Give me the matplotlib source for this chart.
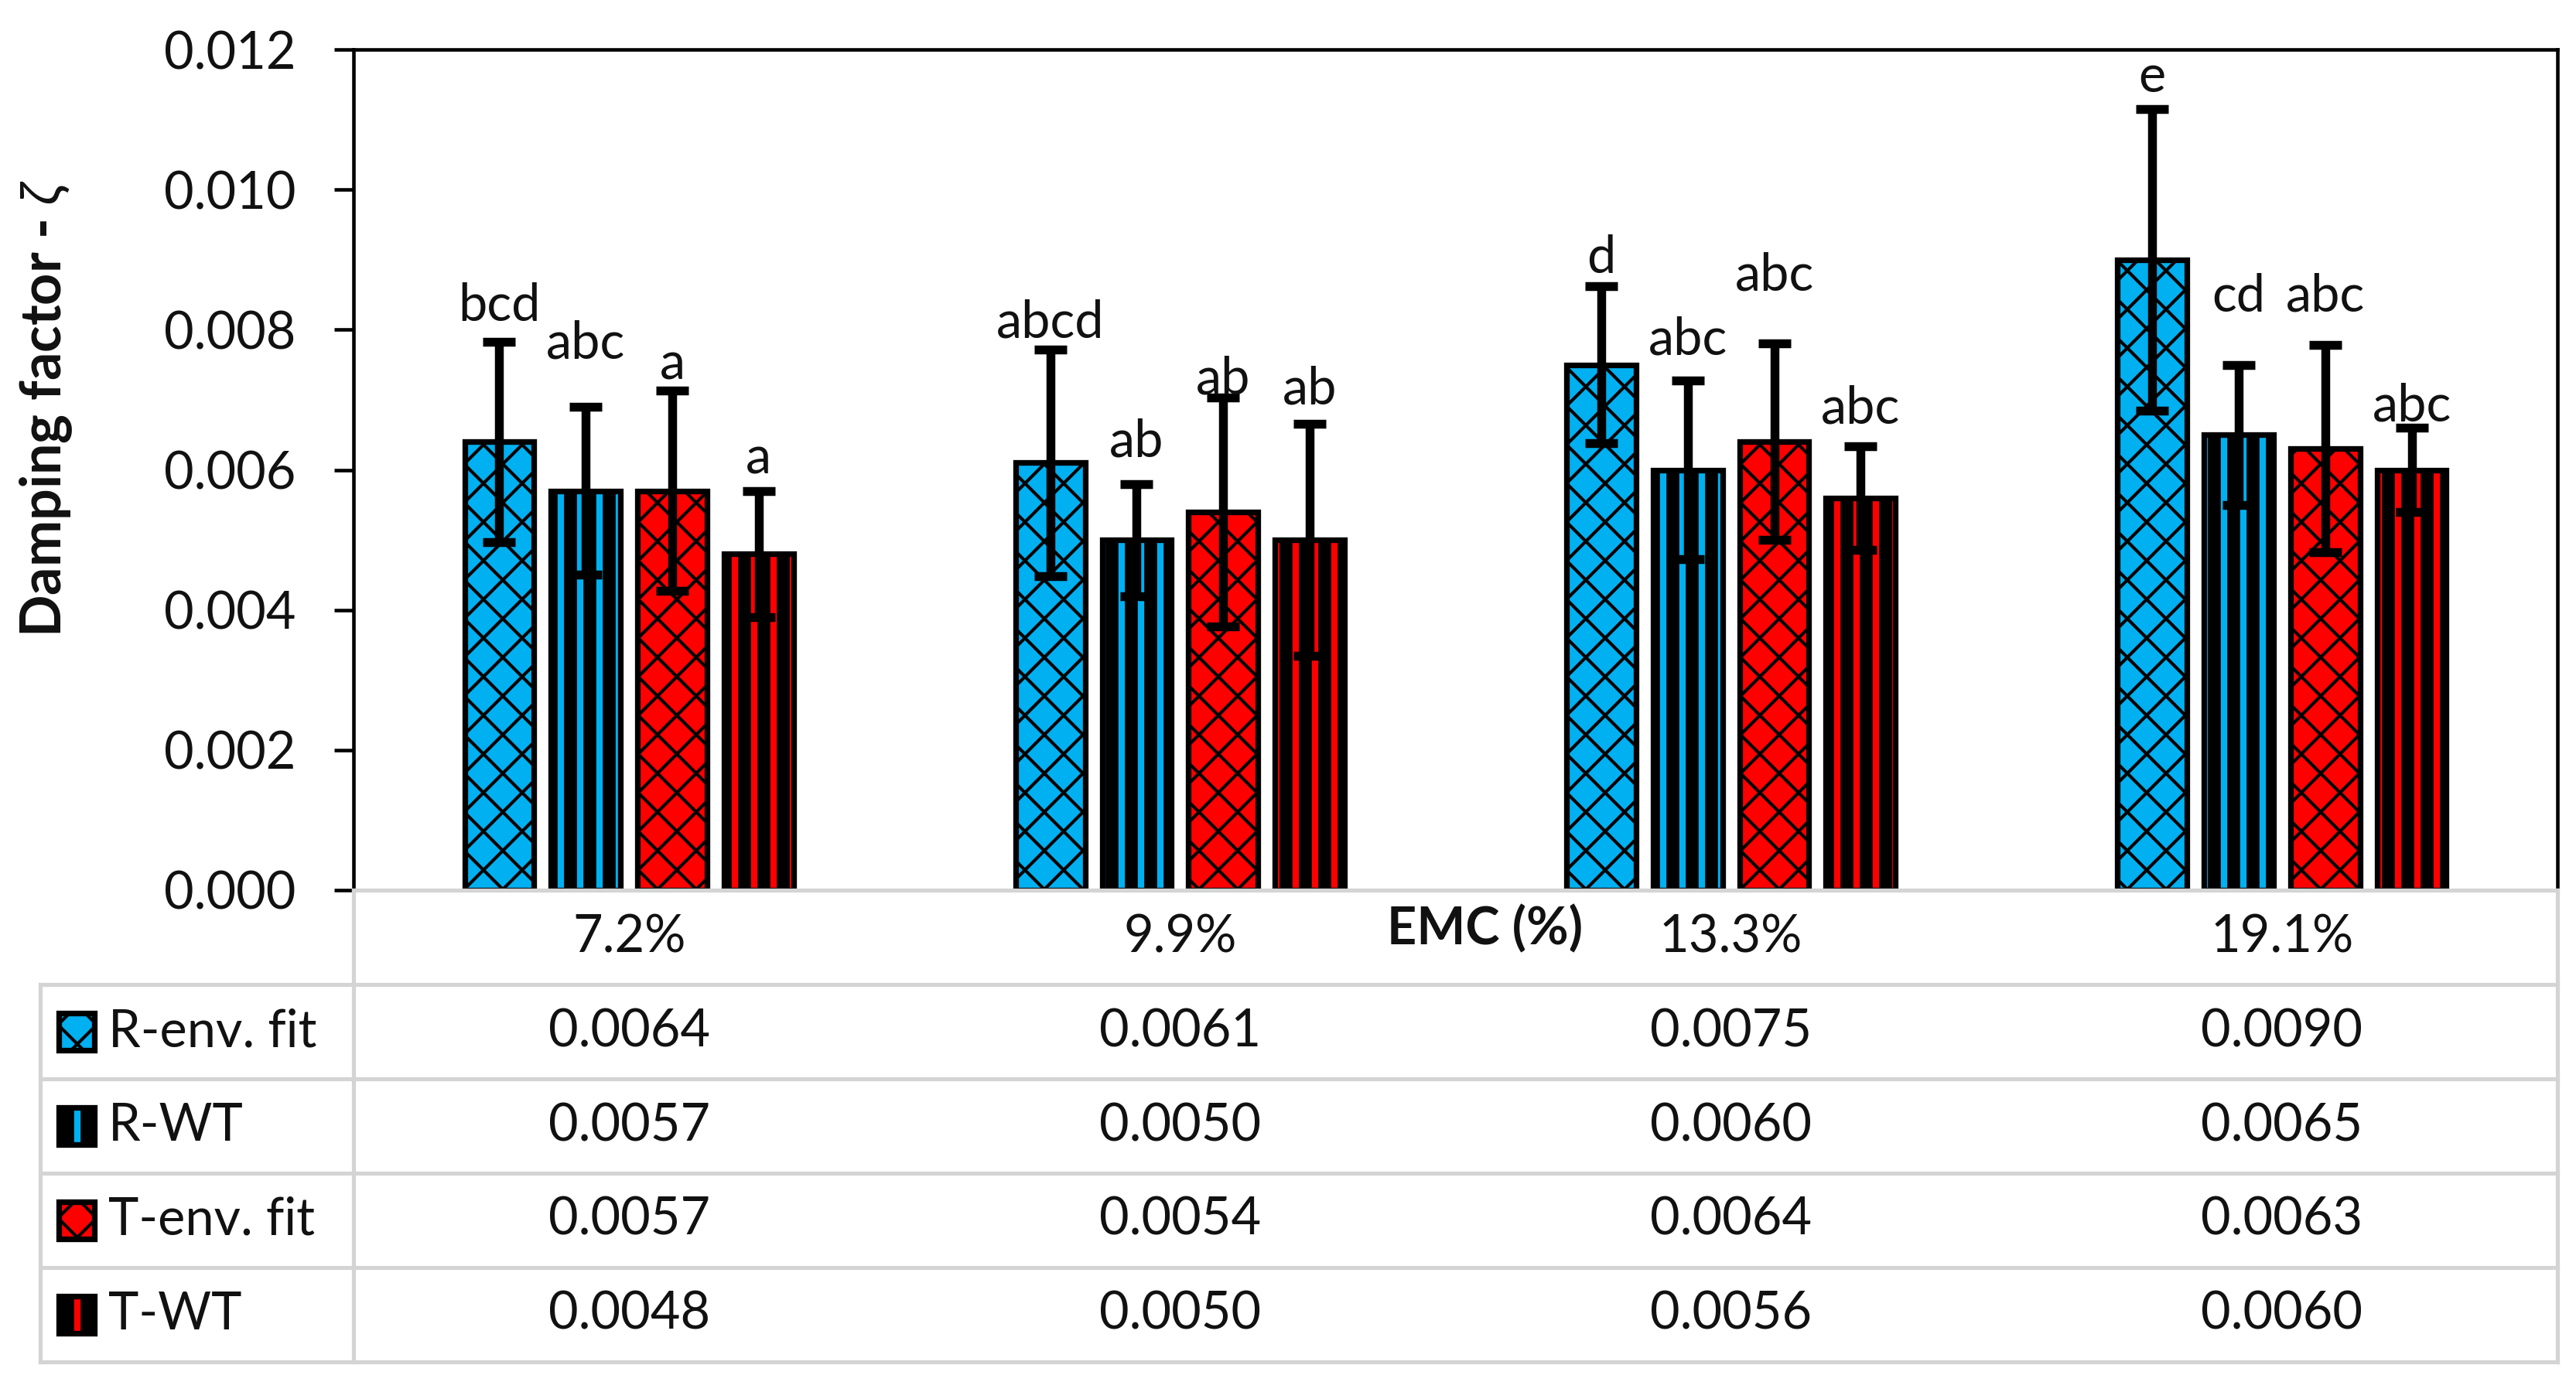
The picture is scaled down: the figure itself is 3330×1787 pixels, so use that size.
import numpy as np
import matplotlib
matplotlib.use("Agg")
import matplotlib.pyplot as plt
import matplotlib.transforms as mtransforms
from matplotlib.patches import Rectangle


emc_labels = ["7.2%", "9.9%", "13.3%", "19.1%"]
series_names = ["R-env. fit", "R-WT", "T-env. fit", "T-WT"]

r_env_fit = [0.0064, 0.0061, 0.0075, 0.0090]
r_wt = [0.0057, 0.0050, 0.0060, 0.0065]
t_env_fit = [0.0057, 0.0054, 0.0064, 0.0063]
t_wt = [0.0048, 0.0050, 0.0056, 0.0060]

r_env_fit_err = [0.00143, 0.00162, 0.00112, 0.00215]
r_wt_err = [0.00120, 0.00080, 0.00128, 0.00100]
t_env_fit_err = [0.00143, 0.00163, 0.00140, 0.00148]
t_wt_err = [0.00090, 0.00166, 0.00074, 0.00060]

# significance letters and the height they sit at
r_env_fit_letters = ["bcd", "abcd", "d", "e"]
r_wt_letters = ["abc", "ab", "abc", "cd"]
t_env_fit_letters = ["a", "ab", "abc", "abc"]
t_wt_letters = ["a", "ab", "abc", "abc"]

r_env_fit_letter_y = [0.00834, 0.00810, 0.00902, 0.01160]
r_wt_letter_y = [0.00780, 0.00640, 0.00785, 0.00847]
t_env_fit_letter_y = [0.00750, 0.00729, 0.00877, 0.00847]
t_wt_letter_y = [0.00615, 0.00715, 0.00687, 0.00691]

W, H, DPI = 3330, 1787, 150
BLUE = "#00B0F0"
RED = "#FF0000"
TEXT = "#111111"
GRID = "#d4d4d4"
FS = 32

plt.rcParams["font.family"] = ["Lato", "DejaVu Sans"]
plt.rcParams["mathtext.fontset"] = "custom"
plt.rcParams["mathtext.it"] = "Lato:italic"
plt.rcParams["mathtext.rm"] = "Lato"


def fx(px):
    return px / W


def fy(py):
    return 1 - py / H


def style_hatch(patch, lw):
    try:
        patch.set_hatch_linewidth(lw)
    except AttributeError:
        pass


series = [
    (r_env_fit, r_env_fit_err, r_env_fit_letters, r_env_fit_letter_y, BLUE, "x", 2.0),
    (r_wt, r_wt_err, r_wt_letters, r_wt_letter_y, BLUE, "|", 8.0),
    (t_env_fit, t_env_fit_err, t_env_fit_letters, t_env_fit_letter_y, RED, "x", 2.0),
    (t_wt, t_wt_err, t_wt_letters, t_wt_letter_y, RED, "|", 8.0),
]

fig = plt.figure(figsize=(W / DPI, H / DPI), dpi=DPI)

# plot area
left, right, top, bottom = 457, 3306, 64, 1151
ax = fig.add_axes([fx(left), fy(bottom), fx(right) - fx(left), fy(top) - fy(bottom)])

x = np.arange(len(emc_labels))
width = 0.126
step = 0.157

for k, (vals, errs, letters, ly, color, hatch, hlw) in enumerate(series):
    xs = x + (k - 1.5) * step
    bars = ax.bar(xs, vals, width, color=color, edgecolor="black", linewidth=3.5,
                  hatch=hatch, zorder=2)
    for b in bars:
        style_hatch(b, hlw)
    ax.errorbar(xs, vals, yerr=errs, fmt="none", ecolor="black", elinewidth=5.5,
                capsize=10, capthick=5.5, zorder=3)
    for xi, lab, yy in zip(xs, letters, ly):
        ax.text(xi, yy, lab, ha="center", va="center", fontsize=FS, color=TEXT, zorder=4)

ax.set_xlim(-0.5, 3.5)
ax.set_ylim(0, 0.012)
ax.set_yticks(np.arange(0, 0.0121, 0.002))
ax.set_yticklabels([f"{v:.3f}" for v in np.arange(0, 0.0121, 0.002)], fontsize=FS, color=TEXT)
ax.set_xticks([])
ax.tick_params(axis="y", length=12, width=2.2, pad=24, direction="out")
for side in ["left", "top", "right"]:
    ax.spines[side].set_color("black")
    ax.spines[side].set_linewidth(2.2)
ax.spines["bottom"].set_visible(False)

fig.text(fx(60), fy(528), r"Damping factor - $\zeta$", rotation=90, ha="center", va="center",
         fontsize=34.5, fontweight="bold", color=TEXT)

# data table under the chart
t_left, t_top, t_bottom = 52, 1151, 1761
tab = fig.add_axes([fx(t_left), fy(t_bottom), fx(right) - fx(t_left), fy(t_top) - fy(t_bottom)])
tab.set_xlim(t_left, right)
tab.set_ylim(t_bottom, t_top)
tab.axis("off")

edges = np.linspace(t_top, t_bottom, len(series_names) + 2)
centers = (edges[:-1] + edges[1:]) / 2

tab.plot([left, right], [edges[0], edges[0]], color=GRID, lw=2.5, clip_on=False)
for e in edges[1:]:
    tab.plot([t_left, right], [e, e], color=GRID, lw=2.5, clip_on=False)
tab.plot([left, left], [edges[0], edges[-1]], color=GRID, lw=2.5, clip_on=False)
tab.plot([t_left, t_left], [edges[1], edges[-1]], color=GRID, lw=2.5, clip_on=False)
tab.plot([right, right], [edges[0], edges[-1]], color=GRID, lw=2.5, clip_on=False)

col = mtransforms.blended_transform_factory(ax.transData, tab.transData)

for i, lab in enumerate(emc_labels):
    tab.text(i, centers[0], lab, transform=col, ha="center", va="center",
             fontsize=FS, color=TEXT)
fig.text(fx(1920), fy(1202), "EMC (%)", ha="center", va="center", fontsize=FS,
         fontweight="bold", color=TEXT)

for r, (name, (vals, errs, letters, ly, color, hatch, hlw)) in enumerate(zip(series_names, series)):
    yc = centers[r + 1]
    key = Rectangle((76, yc - 24), 46, 48, facecolor=color, edgecolor="black",
                    linewidth=3.5, hatch=hatch, clip_on=False)
    style_hatch(key, hlw)
    tab.add_patch(key)
    tab.text(140, yc, name, ha="left", va="center", fontsize=FS, color=TEXT)
    for i, v in enumerate(vals):
        tab.text(i, yc, f"{v:.4f}", transform=col, ha="center", va="center",
                 fontsize=FS, color=TEXT)

fig.savefig("out.png", dpi=DPI, facecolor="white")
